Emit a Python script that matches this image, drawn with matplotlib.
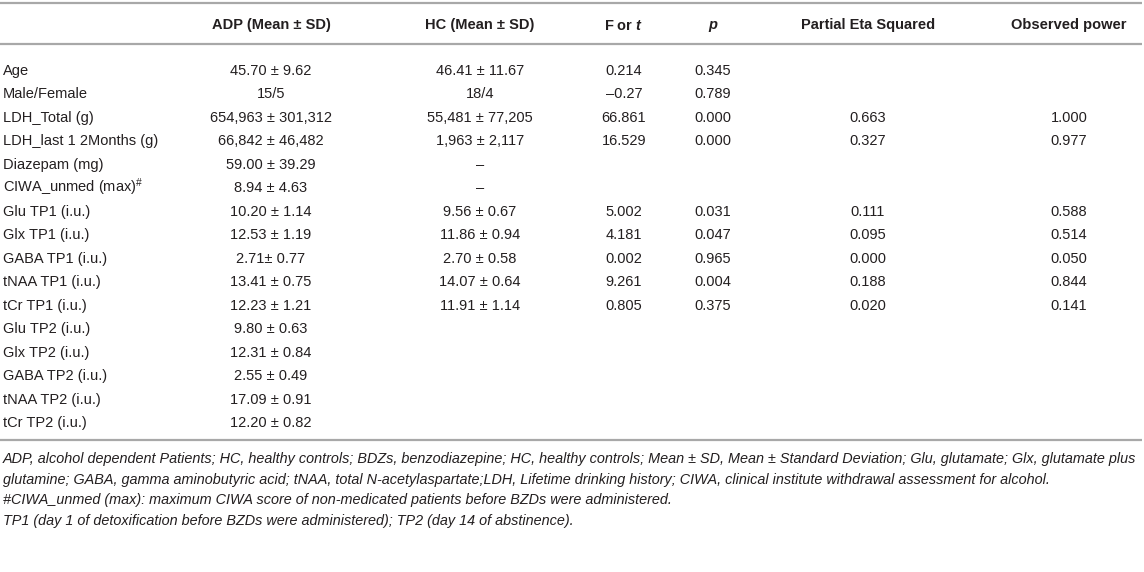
import matplotlib
matplotlib.use("Agg")
import matplotlib.pyplot as plt

plt.rcParams["font.family"] = ["Liberation Sans", "DejaVu Sans"]
plt.rcParams["mathtext.fontset"] = "custom"
plt.rcParams["mathtext.rm"] = "Liberation Sans"
plt.rcParams["mathtext.it"] = "Liberation Sans:italic"
plt.rcParams["mathtext.bf"] = "Liberation Sans:bold"
plt.rcParams["mathtext.bfit"] = "Liberation Sans:italic:bold"

# table content
headers = ["", "ADP (Mean \u00b1 SD)", "HC (Mean \u00b1 SD)", r"F or $\mathbfit{t}$", "p",
           "Partial Eta Squared", "Observed power"]
row_labels = ["Age", "Male/Female", "LDH_Total (g)", "LDH_last 1 2Months (g)", "Diazepam (mg)",
              "CIWA_unmed (max)$^{\\#}$", "Glu TP1 (i.u.)", "Glx TP1 (i.u.)", "GABA TP1 (i.u.)",
              "tNAA TP1 (i.u.)", "tCr TP1 (i.u.)", "Glu TP2 (i.u.)", "Glx TP2 (i.u.)",
              "GABA TP2 (i.u.)", "tNAA TP2 (i.u.)", "tCr TP2 (i.u.)"]
adp = ["45.70 \u00b1 9.62", "15/5", "654,963 \u00b1 301,312", "66,842 \u00b1 46,482",
       "59.00 \u00b1 39.29", "8.94 \u00b1 4.63", "10.20 \u00b1 1.14", "12.53 \u00b1 1.19",
       "2.71\u00b1 0.77", "13.41 \u00b1 0.75", "12.23 \u00b1 1.21", "9.80 \u00b1 0.63",
       "12.31 \u00b1 0.84", "2.55 \u00b1 0.49", "17.09 \u00b1 0.91", "12.20 \u00b1 0.82"]
hc = ["46.41 \u00b1 11.67", "18/4", "55,481 \u00b1 77,205", "1,963 \u00b1 2,117", "\u2013", "\u2013",
      "9.56 \u00b1 0.67", "11.86 \u00b1 0.94", "2.70 \u00b1 0.58", "14.07 \u00b1 0.64",
      "11.91 \u00b1 1.14", "", "", "", "", ""]
f_or_t = ["0.214", "\u20130.27", "66.861", "16.529", "", "", "5.002", "4.181", "0.002", "9.261",
          "0.805", "", "", "", "", ""]
p_vals = ["0.345", "0.789", "0.000", "0.000", "", "", "0.031", "0.047", "0.965", "0.004",
          "0.375", "", "", "", "", ""]
eta = ["", "", "0.663", "0.327", "", "", "0.111", "0.095", "0.000", "0.188", "0.020",
       "", "", "", "", ""]
power = ["", "", "1.000", "0.977", "", "", "0.588", "0.514", "0.050", "0.844", "0.141",
         "", "", "", "", ""]
footnotes = [
    "ADP, alcohol dependent Patients; HC, healthy controls; BDZs, benzodiazepine; HC, healthy controls; "
    "Mean \u00b1 SD, Mean \u00b1 Standard Deviation; Glu, glutamate; Glx, glutamate plus",
    "glutamine; GABA, gamma aminobutyric acid; tNAA, total N-acetylaspartate;LDH, Lifetime drinking "
    "history; CIWA, clinical institute withdrawal assessment for alcohol.",
    "#CIWA_unmed (max): maximum CIWA score of non-medicated patients before BZDs were administered.",
    "TP1 (day 1 of detoxification before BZDs were administered); TP2 (day 14 of abstinence).",
]

W, H = 1144, 572
fig = plt.figure(figsize=(W / 100, H / 100), dpi=100)
ax = fig.add_axes([0, 0, 1, 1])
ax.set_xlim(0, W)
ax.set_ylim(H, 0)
ax.axis("off")

ink = "#231f20"
rule = "#a8a8a8"
fs = 10.5
col_x = [3, 271, 480, 624, 713, 868, 1069]
# baselines (pixel rows, top-down)
header_base = 29.5
row_base0, row_dy = 75, 23.47

# horizontal rules
for yy in (3, 44, 440):
    ax.plot([0, 1142], [yy, yy], color=rule, lw=1.6, solid_capstyle="butt")

# header
for i, h in enumerate(headers):
    if not h:
        continue
    style = "italic" if h == "p" else "normal"
    ax.text(col_x[i], header_base, h, ha="center", va="baseline", fontsize=fs,
            fontweight="bold", fontstyle=style, color=ink)

# body
columns = [adp, hc, f_or_t, p_vals, eta, power]
for r, label in enumerate(row_labels):
    y = row_base0 + r * row_dy
    ax.text(col_x[0], y, label, ha="left", va="baseline", fontsize=fs, color=ink)
    for c, col in enumerate(columns):
        if col[r]:
            ax.text(col_x[c + 1], y, col[r], ha="center", va="baseline", fontsize=fs, color=ink)

# footnotes
foot_base = [463.5, 484, 504, 524.5]
for y, line in zip(foot_base, footnotes):
    ax.text(3, y, line, ha="left", va="baseline", fontsize=10.4, fontstyle="italic",
            family=["Liberation Sans Narrow", "Liberation Sans"], color=ink)

fig.savefig("out.png", dpi=100)
